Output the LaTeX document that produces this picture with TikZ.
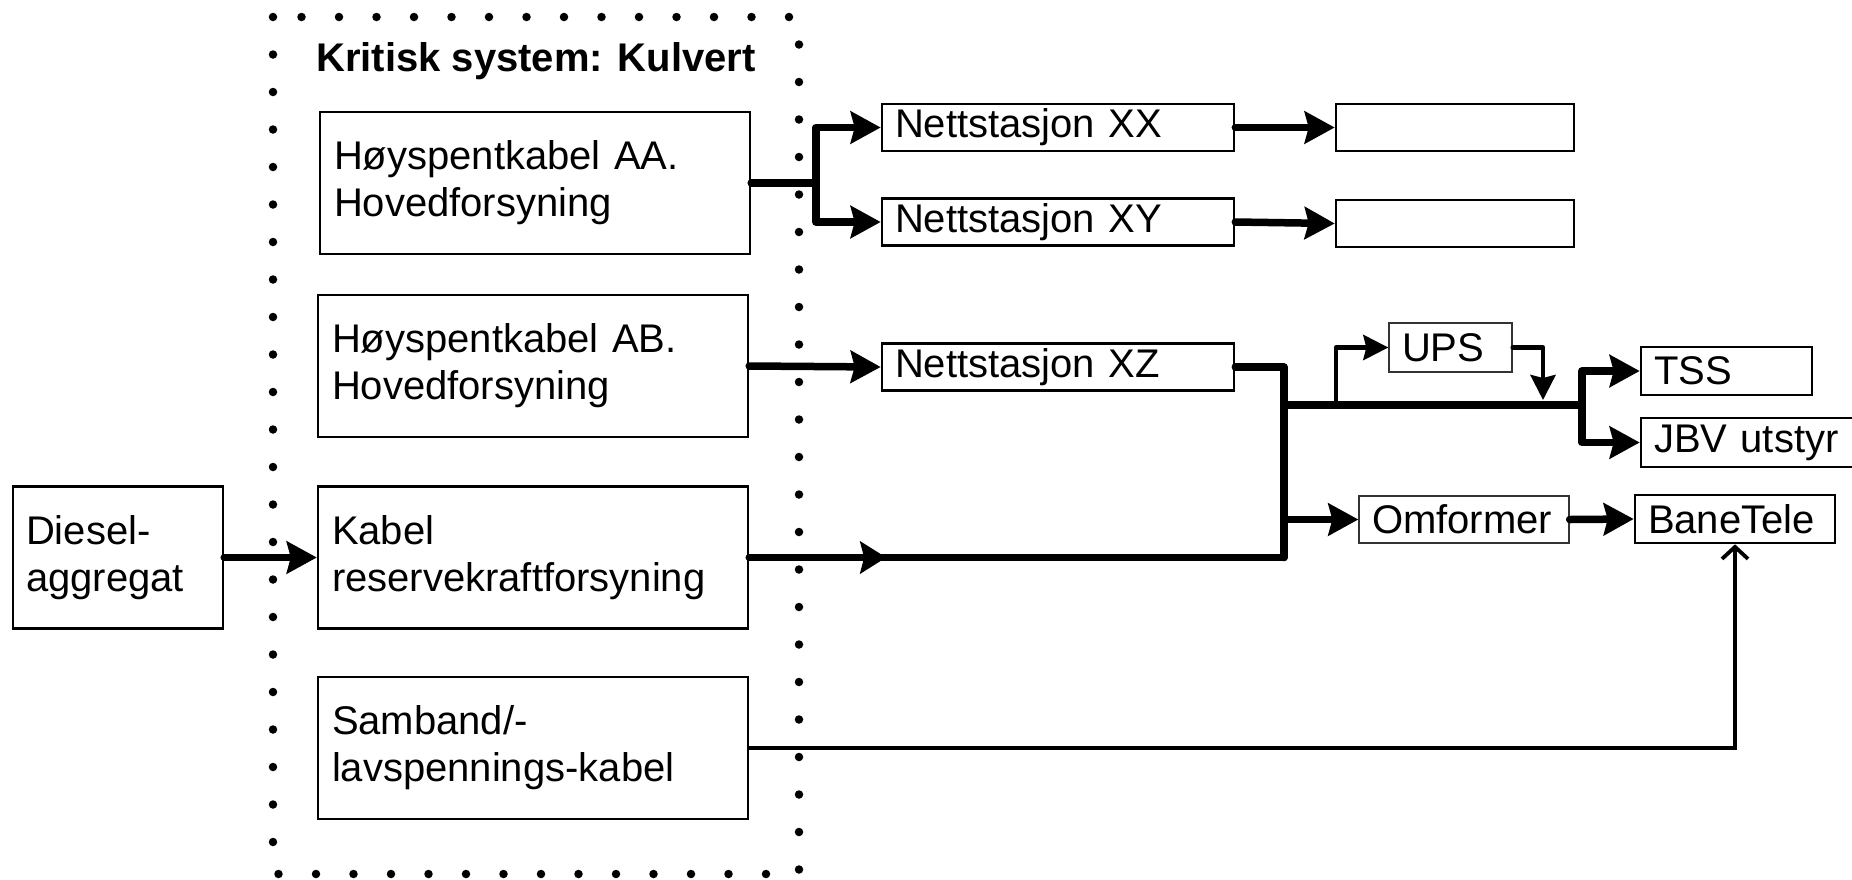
\documentclass[tikz,border=0pt]{standalone}
\usepackage{fontspec}
\setmainfont{Liberation Sans}
\usetikzlibrary{arrows.meta,decorations.markings}
\begin{document}
\begin{tikzpicture}[x=1pt,y=-1pt,
  txt/.style={font=\fontsize{40pt}{47pt}\selectfont},
  bigbox/.style={draw, line width=2.4pt, txt, align=left, inner xsep=14pt, inner ysep=0pt, text width=402pt, minimum height=142pt},
  smallbox/.style={draw, line width=2.6pt, txt, align=left, inner xsep=13pt, inner ysep=0pt, minimum height=47pt},
  thinbox/.style={smallbox, line width=1.3pt, draw=black!80},
  thk/.style={line width=7.5pt, line cap=round, line join=round},
  med/.style={line width=4.5pt, line cap=round, line join=round},
  ah/.style={-{Stealth[length=30pt,width=32pt,inset=4pt]}},
  ahs/.style={-{Stealth[length=25pt,width=25pt,inset=3pt]}},
  midarrow/.style={postaction={decorate}, decoration={markings, mark=at position 137pt with {\arrow{Stealth[length=26pt,width=32pt,inset=4pt]}}}},
  frame/.style={line width=8.5pt, line cap=round, dash pattern=on 0pt off 37.5pt}
]
\useasboundingbox (0,0) rectangle (1852,879);

% dotted frame
\draw[frame] (273,17) rectangle (799,874);
\node[font=\bfseries\fontsize{40pt}{47pt}\selectfont, anchor=base] (title) at (536,71) {Kritisk system: Kulvert};

% big boxes
\node[bigbox] (AA) at (535,183) {Høyspentkabel AA.\\Hovedforsyning};
\node[bigbox] (AB) at (533,366) {Høyspentkabel AB.\\Hovedforsyning};
\node[bigbox] (KB) at (533,557.5) {Kabel\\reservekraftforsyning};
\node[bigbox] (SB) at (533,748) {Samband/-\\lavspennings-kabel};
\node[bigbox, text width=184pt, inner xsep=13pt] (DA) at (118,557.5) {Diesel-\\aggregat};

% small boxes
\node[smallbox, text width=326pt] (XX) at (1058,127.5) {Nettstasjon XX};
\node[smallbox, text width=326pt] (XY) at (1058,222) {Nettstasjon XY};
\node[smallbox, text width=326pt] (XZ) at (1058,367) {Nettstasjon XZ};
\node[smallbox, text width=212pt] (E1) at (1455,127.5) {};
\node[smallbox, text width=212pt] (E2) at (1455,223.5) {};
\node[thinbox, text width=97pt, minimum height=49pt] (UPS) at (1450.5,347.5) {UPS};
\node[smallbox, text width=145pt, minimum height=48pt] (TSS) at (1726.5,371) {TSS};
\node[smallbox, text width=189pt, minimum height=49pt] (JBV) at (1748.5,442.5) {JBV utstyr};
\node[thinbox, text width=184pt] (OM) at (1464,519.5) {Omformer};
\node[smallbox, text width=174pt, minimum height=48pt] (BT) at (1735,519) {BaneTele};

% coordinates
\coordinate (b1) at (816,183);
\coordinate (j1) at (1284,557.5);
\coordinate (bl) at (1284,405);
\coordinate (br) at (1582,405);
\coordinate (ub) at (1336,405);
\coordinate (ud) at (1543,400);
\coordinate (ob) at (1284,519.5);

% connectors
\draw[thk] (AA.east) -- (b1);
\draw[thk, ah] (b1) |- (XX.west);
\draw[thk, ah] (b1) |- (XY.west);
\draw[thk, ah] (XX.east) -- (E1.west);
\draw[thk, ah] (XY.east) -- (E2.west);
\draw[thk, ah] (AB.east) -- (XZ.west);
\draw[thk, ah] (DA.east) -- (KB.west);
\draw[thk] (XZ.east) -| (j1);
\draw[thk, midarrow] (KB.east) -- (j1);
\draw[thk] (bl) -- (br);
\draw[thk, ah] (br) |- (TSS.west);
\draw[thk, ah] (br) |- (JBV.west);
\draw[med, ahs] (ub) |- (UPS.west);
\draw[med, ahs] (UPS.east) -| (ud);
\draw[thk, ah] (ob) -- (OM.west);
\draw[thk, ah] (OM.east) -- (BT.west);
\draw[line width=3.8pt, -{Straight Barb[length=12pt,width=26pt]}] (SB.east) -| (BT.south);
\end{tikzpicture}
\end{document}
